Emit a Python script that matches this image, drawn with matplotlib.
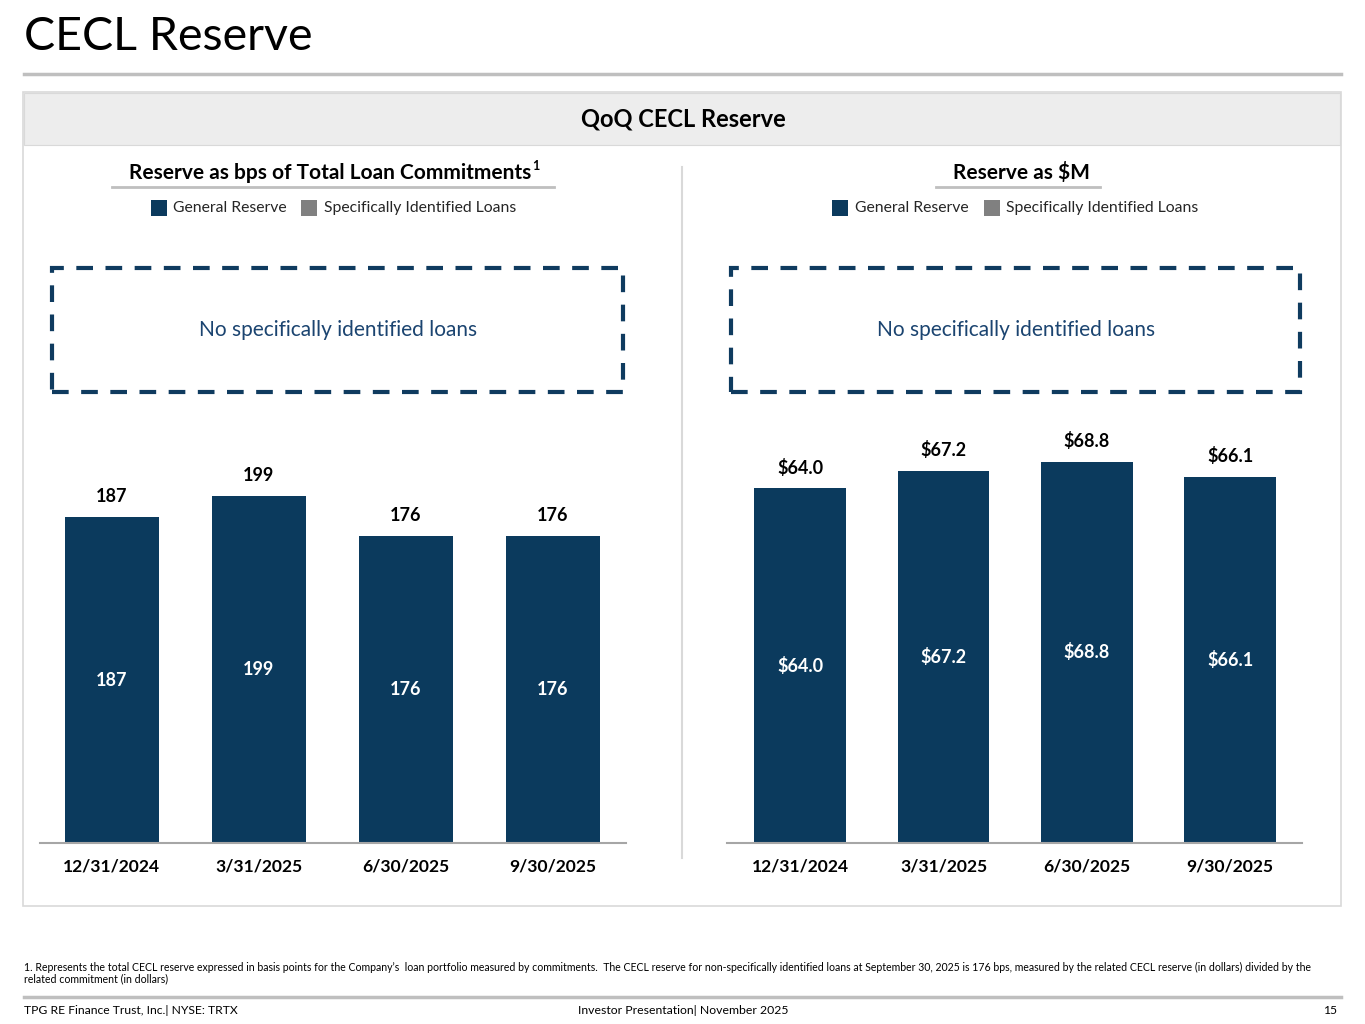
import matplotlib
matplotlib.use("Agg")
import matplotlib.pyplot as plt
from matplotlib.patches import Rectangle

plt.rcParams['font.family'] = ['Lato', 'DejaVu Sans']

# ---- data ----
dates = ["12/31/2024", "3/31/2025", "6/30/2025", "9/30/2025"]
bps_general = [187, 199, 176, 176]
bps_specific = [0, 0, 0, 0]
usd_general = [64.0, 67.2, 68.8, 66.1]
usd_specific = [0, 0, 0, 0]
bps_labels = ["187", "199", "176", "176"]
usd_labels = ["$64.0", "$67.2", "$68.8", "$66.1"]

NAVY = "#0B3A5D"
GRAY_SQ = "#808080"
TEXT_NAVY = "#1B4470"
DASH = "#0F3B5F"

W, H = 1365, 1024
fig = plt.figure(figsize=(W / 100, H / 100), dpi=100)


def fx(x):
    return x / W


def fy(y):
    return 1 - y / H


def add_rect(x0, y0, x1, y1, zorder=-1, **kw):
    r = Rectangle((fx(x0), fy(y1)), fx(x1) - fx(x0), fy(y0) - fy(y1),
                  transform=fig.transFigure, zorder=zorder, **kw)
    fig.add_artist(r)
    return r


def hline(x0, x1, y, color, lw):
    fig.add_artist(plt.Line2D([fx(x0), fx(x1)], [fy(y), fy(y)],
                              transform=fig.transFigure, color=color, lw=lw))


# Title
fig.text(fx(24), fy(37), "CECL Reserve", fontsize=33.5, ha="left", va="center", color="black")
hline(24, 1341, 74, "#BFBFBF", 2.5)

# Panel
add_rect(23, 92, 1341, 906, zorder=-3, facecolor="white", edgecolor="#D9D9D9", lw=1.2)
add_rect(24, 93, 1340, 145, zorder=-2, facecolor="#EDEDED", edgecolor="#D9D9D9", lw=0.8)
fig.text(fx(683), fy(119), "QoQ CECL Reserve", fontsize=17, fontweight="bold",
         ha="center", va="center", color="black")

# divider
fig.add_artist(plt.Line2D([fx(682), fx(682)], [fy(167), fy(858)],
                          transform=fig.transFigure, color="#D9D9D9", lw=1.5))

# Subtitles
fig.text(fx(531), fy(173), "Reserve as bps of Total Loan Commitments", fontsize=15,
         fontweight="bold", ha="right", va="center")
fig.text(fx(532), fy(166), "1", fontsize=9, fontweight="bold", ha="left", va="center")
hline(112, 554, 187, "#BFBFBF", 2)
fig.text(fx(1021), fy(173), "Reserve as $M", fontsize=15, fontweight="bold",
         ha="center", va="center")
hline(936, 1100, 187, "#BFBFBF", 2)


def legend(x_sq1, x_t1, x_sq2, x_t2, y):
    add_rect(x_sq1, y - 8, x_sq1 + 16, y + 8, zorder=1, facecolor=NAVY, edgecolor="none")
    fig.text(fx(x_t1), fy(y), "General Reserve", fontsize=11.3, ha="left", va="center", color="#262626")
    add_rect(x_sq2, y - 8, x_sq2 + 16, y + 8, zorder=1, facecolor=GRAY_SQ, edgecolor="none")
    fig.text(fx(x_t2), fy(y), "Specifically Identified Loans", fontsize=11.3, ha="left", va="center",
             color="#262626")


legend(151, 173, 301, 324, 208)
legend(832, 855, 984, 1006, 208)


# Dashed boxes
def dashed_box(x0, x1, y0, y1, cx):
    add_rect(x0, y0, x1, y1, zorder=1, facecolor="none", edgecolor=DASH, lw=3,
             linestyle=(0, (4, 3)))
    fig.text(fx(cx), fy((y0 + y1) / 2), "No specifically identified loans", fontsize=15,
             ha="center", va="center", color=TEXT_NAVY)


dashed_box(52, 623, 268, 392, 338)
dashed_box(731, 1300, 268, 392, 1016)


def bar_axes(x0, x1, y0, y1, general, specific, labels, ymax, xl):
    ax = fig.add_axes([fx(x0), fy(y1), fx(x1) - fx(x0), fy(y0) - fy(y1)])
    ax.set_zorder(5)
    xs = list(range(len(general)))
    ax.bar(xs, general, width=0.64, color=NAVY, zorder=2)
    ax.bar(xs, specific, width=0.64, bottom=general, color=GRAY_SQ, zorder=2)
    ax.set_xlim(*xl)
    ax.set_ylim(0, ymax)
    for i, (g, s, lab) in enumerate(zip(general, specific, labels)):
        ax.text(i, g / 2, lab, color="white", fontsize=13, fontweight="bold", ha="center", va="center")
        ax.annotate(lab, (i, g + s), xytext=(0, 15), textcoords="offset points",
                    ha="center", va="center", fontsize=13, fontweight="bold", color="black")
    for sp in ["top", "left", "right"]:
        ax.spines[sp].set_visible(False)
    ax.spines["bottom"].set_color("#A6A6A6")
    ax.spines["bottom"].set_linewidth(1.5)
    ax.set_yticks([])
    ax.set_xticks(xs)
    ax.set_xticklabels(dates, fontsize=12.6, fontweight="bold")
    ax.tick_params(axis="x", length=0, pad=11.5)
    ax.patch.set_alpha(0)
    return ax


bar_axes(40, 626, 263, 843, bps_general, bps_specific, bps_labels, 580 / 1.742, (-0.49, 3.5))
bar_axes(727, 1302, 263, 843, usd_general, usd_specific, usd_labels, 580 / 5.54, (-0.51, 3.5))

# Footnote
fig.text(fx(24), fy(967),
         "1. Represents the total CECL reserve expressed in basis points for the Company\u2019s  loan portfolio measured by commitments.  "
         "The CECL reserve for non-specifically identified loans at September 30, 2025 is 176 bps, measured by the related CECL reserve (in dollars) divided by the",
         fontsize=7.6, ha="left", va="center")
fig.text(fx(24), fy(979), "related commitment (in dollars)", fontsize=7.6, ha="left", va="center")

hline(24, 1341, 997, "#BFBFBF", 2.5)
fig.text(fx(24), fy(1010), "TPG RE Finance Trust, Inc.| NYSE: TRTX", fontsize=8.7, ha="left", va="center")
fig.text(fx(683), fy(1010), "Investor Presentation| November 2025", fontsize=8.8, ha="center", va="center")
fig.text(fx(1337), fy(1010), "15", fontsize=8.7, ha="right", va="center")

fig.savefig("out.png", dpi=100)
